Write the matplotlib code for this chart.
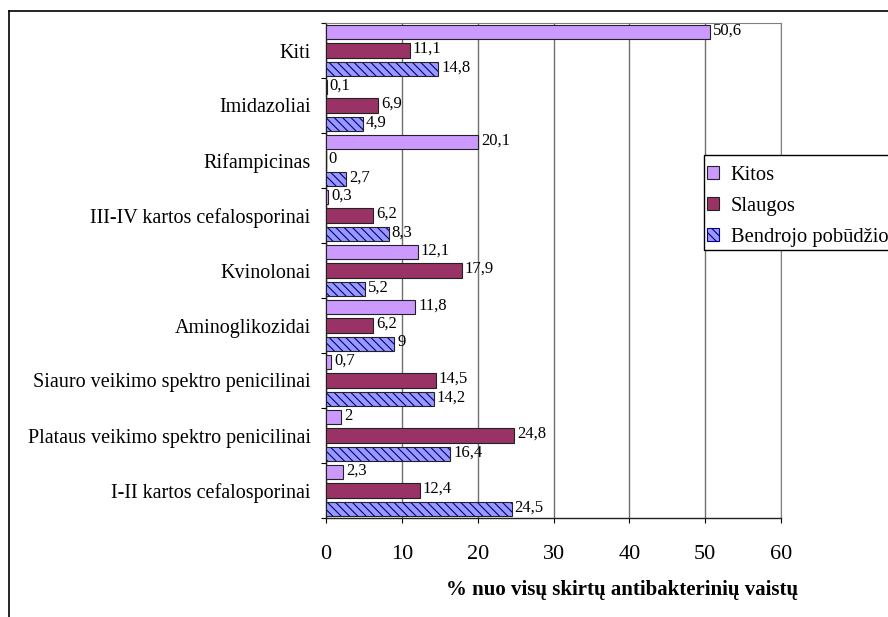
import matplotlib.pyplot as plt
from matplotlib.lines import Line2D
from matplotlib.patches import Patch, Rectangle
import numpy as np

plt.rcParams['font.family'] = ['Liberation Serif', 'DejaVu Serif']
plt.rcParams['hatch.linewidth'] = 0.8

# categories from bottom to top
categories = ["I-II kartos cefalosporinai",
              "Plataus veikimo spektro penicilinai",
              "Siauro veikimo spektro penicilinai",
              "Aminoglikozidai",
              "Kvinolonai",
              "III-IV kartos cefalosporinai",
              "Rifampicinas",
              "Imidazoliai",
              "Kiti"]
kitos = [2.3, 2, 0.7, 11.8, 12.1, 0.3, 20.1, 0.1, 50.6]
slaugos = [12.4, 24.8, 14.5, 6.2, 17.9, 6.2, 0, 6.9, 11.1]
bendrojo = [24.5, 16.4, 14.2, 9, 5.2, 8.3, 2.7, 4.9, 14.8]
series_names = ["Kitos", "Slaugos", "Bendrojo pobūdžio"]
x_ticks = [0, 10, 20, 30, 40, 50, 60]

fig = plt.figure(figsize=(8.88, 6.17), dpi=100)
ax = fig.add_axes([326/888, 1-518/617, 455/888, 495/617])

y = np.arange(len(categories))
step = 0.333
h = 0.265

ax.barh(y + step, kitos, height=h, color='#CC99FF', edgecolor='#222222', lw=0.8, zorder=3)
ax.barh(y, slaugos, height=h, color='#993366', edgecolor='#222222', lw=0.8, zorder=3)
# hatched bars: hatch first, black outline on top
ax.barh(y - step, bendrojo, height=h, color='#9999FF', edgecolor='#000080', lw=0,
        hatch='\\\\\\\\', zorder=3)
ax.barh(y - step, bendrojo, height=h, color='none', edgecolor='#222222', lw=0.8, zorder=4)

def fmt(v):
    return ('%g' % v).replace('.', ',')

for vals, off in ((kitos, step), (slaugos, 0), (bendrojo, -step)):
    for yi, v in zip(y, vals):
        ax.annotate(fmt(v), (v, yi + off), xytext=(2, 1), textcoords='offset points',
                    ha='left', va='center', fontsize=12, zorder=5)

ax.set_xlim(0, 60)
ax.set_ylim(-0.5, len(categories) - 0.5)
ax.set_xticks(x_ticks)
ax.set_xticklabels([str(t) for t in x_ticks], fontsize=16)
ax.tick_params(axis='x', length=3.6, width=0.8, pad=16, direction='out')
ax.set_yticks(np.arange(-0.5, len(categories)))
ax.set_yticklabels([])
ax.set_yticks(y, minor=True)
ax.set_yticklabels(categories, minor=True, fontsize=14.5)
ax.tick_params(axis='y', which='major', length=3.6, width=0.8)
ax.tick_params(axis='y', which='minor', length=0, pad=11)

ax.grid(axis='x', color='#707070', lw=1.0, zorder=0)
for s in ('top', 'right'):
    ax.spines[s].set_color('#808080')
for s in ('left', 'bottom'):
    ax.spines[s].set_color('#222222')
    ax.spines[s].set_linewidth(1.0)

# axis title sits right of the axis centre
fig.text(622/888, 1-590/617, "% nuo visų skirtų antibakterinių vaistų", fontsize=15,
         fontweight='bold', ha='center', va='center')

# legend box drawn separately so the entries can sit lower inside it
fig.add_artist(Rectangle((704/888, 1-250/617), 200/888, 95/617, transform=fig.transFigure,
                         facecolor='white', edgecolor='black', lw=1.0, zorder=4))
handles = [Patch(facecolor='#CC99FF', edgecolor='#222222', lw=0.8),
           Patch(facecolor='#993366', edgecolor='#222222', lw=0.8),
           Patch(facecolor='#9999FF', edgecolor='#000080', lw=0.8, hatch='\\\\\\\\')]
leg = fig.legend(handles, series_names, loc='upper left',
                 bbox_to_anchor=(707/888, 1-166/617), fontsize=14.8,
                 frameon=False, handlelength=0.6, handleheight=0.6, handletextpad=0.55,
                 borderpad=0, labelspacing=0.58, borderaxespad=0)
leg.set_zorder(5)

# outer chart border
fig.add_artist(Line2D([9/888, 1], [1-11/617, 1-11/617], color='black', lw=1.2))
fig.add_artist(Line2D([9/888, 9/888], [1-11/617, 0], color='black', lw=1.2))

fig.savefig('out.png', dpi=100)
